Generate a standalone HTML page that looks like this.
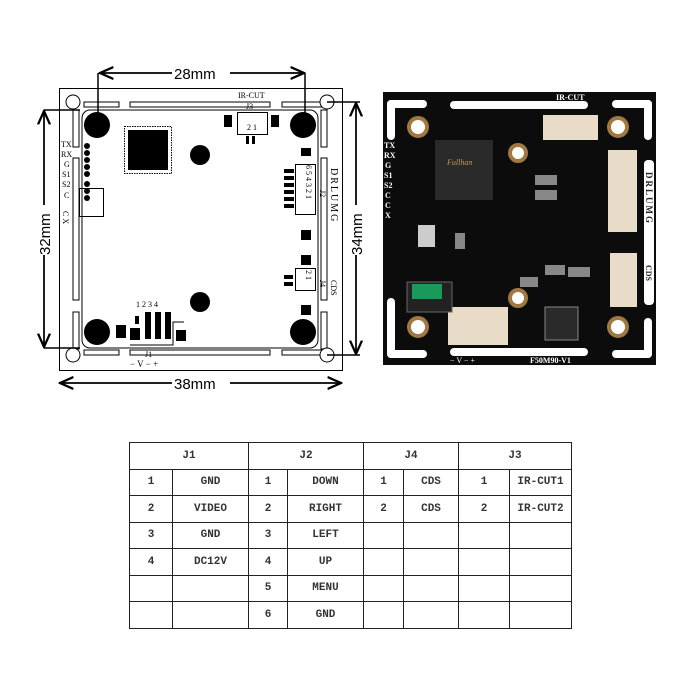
<!DOCTYPE html>
<html><head><meta charset="utf-8"><style>
body{margin:0;background:#fff;width:700px;height:700px;overflow:hidden;font-family:"Liberation Sans",sans-serif}
svg{position:absolute;left:0;top:0}
table{position:absolute;left:129px;top:442px;border-collapse:collapse;font-family:"Liberation Mono","DejaVu Sans Mono",monospace;font-size:11px;color:#333;font-weight:bold}
td{border:1.5px solid #222;text-align:center;height:25.5px;padding:0}
</style></head><body>
<svg width="700" height="700" viewBox="0 0 700 700" font-family="Liberation Serif, serif">
<defs><marker id="a" markerWidth="10" markerHeight="10" refX="9" refY="5" orient="auto"><path d="M0,1 L9,5 L0,9" fill="none" stroke="#000" stroke-width="1.5"/></marker></defs>
<rect x="59.5" y="88.5" width="283" height="282" fill="#fff" stroke="#000"/>
<rect x="82" y="110" width="236" height="238" rx="8" fill="none" stroke="#000"/>
<g fill="#fff" stroke="#000" stroke-width="1">
<rect x="130" y="102" width="140" height="5"/><rect x="84" y="102" width="35" height="5"/><rect x="282" y="102" width="45" height="5"/>
<rect x="130" y="350" width="140" height="5"/><rect x="84" y="350" width="35" height="5"/><rect x="282" y="350" width="45" height="5"/>
<rect x="73" y="110" width="6" height="37"/><rect x="73" y="158" width="6" height="142"/><rect x="73" y="312" width="6" height="37"/>
<rect x="321" y="110" width="6" height="37"/><rect x="321" y="158" width="6" height="142"/><rect x="321" y="312" width="6" height="37"/>
<circle cx="73" cy="102" r="7"/><circle cx="327" cy="102" r="7"/><circle cx="73" cy="355" r="7"/><circle cx="327" cy="355" r="7"/>
</g>
<g fill="#000"><circle cx="97" cy="125" r="13"/><circle cx="303" cy="125" r="13"/><circle cx="97" cy="332" r="13"/><circle cx="303" cy="332" r="13"/>
<circle cx="200" cy="155" r="10"/><circle cx="200" cy="302" r="10"/>
<rect x="128" y="130" width="40" height="40"/>
<circle cx="87" cy="146" r="3"/><circle cx="87" cy="153" r="3"/><circle cx="87" cy="160" r="3"/><circle cx="87" cy="167" r="3"/><circle cx="87" cy="174" r="3"/><circle cx="87" cy="184" r="3"/><circle cx="87" cy="191" r="3"/><circle cx="87" cy="198" r="3"/>
<rect x="224" y="115" width="8" height="12"/><rect x="271" y="115" width="8" height="12"/><rect x="246" y="136" width="3" height="8"/><rect x="252" y="136" width="3" height="8"/>
<rect x="301" y="148" width="10" height="8"/><rect x="301" y="230" width="10" height="10"/><rect x="301" y="255" width="10" height="10"/><rect x="301" y="305" width="10" height="10"/>
<rect x="284" y="169" width="10" height="4"/><rect x="284" y="176" width="10" height="4"/><rect x="284" y="183" width="10" height="4"/><rect x="284" y="190" width="10" height="4"/><rect x="284" y="197" width="10" height="4"/><rect x="284" y="204" width="10" height="4"/>
<rect x="284" y="275" width="9" height="4"/><rect x="284" y="282" width="9" height="4"/>
<rect x="116" y="325" width="10" height="13"/><rect x="130" y="328" width="10" height="12"/><rect x="176" y="330" width="10" height="11"/>
<rect x="145" y="312" width="6" height="27"/><rect x="155" y="312" width="6" height="27"/><rect x="165" y="312" width="6" height="27"/><rect x="135" y="316" width="4" height="8"/>
</g>
<rect x="124.5" y="126.5" width="47" height="47" fill="none" stroke="#000" stroke-dasharray="1.5 1"/>
<rect x="79.5" y="188.5" width="24" height="28" fill="none" stroke="#000"/>
<rect x="237.5" y="112.5" width="30" height="22" fill="none" stroke="#000"/>
<rect x="295.5" y="164.5" width="20" height="50" fill="none" stroke="#000"/>
<rect x="295.5" y="268.5" width="20" height="22" fill="none" stroke="#000"/>
<path d="M130 345 H173 V322 H184" fill="none" stroke="#000"/>
<g font-size="8" fill="#000">
<text x="238" y="98">IR-CUT</text><text x="246" y="109">J3</text><text x="247" y="130">2 1</text>
<text x="61" y="147">TX</text><text x="61" y="157">RX</text><text x="64" y="167">G</text><text x="62" y="177">S1</text><text x="62" y="187">S2</text><text x="64" y="198">C</text>
<text transform="translate(63,211) rotate(90)">C X</text>
<text x="136" y="307">1 2 3 4</text><text x="145" y="357">J1</text><text x="130" y="367" font-size="9">− V − +</text>
<text transform="translate(306,165) rotate(90)">6 5 4 3 2 1</text><text transform="translate(320,190) rotate(90)">J2</text>
<text transform="translate(331,168) rotate(90)" font-size="10" letter-spacing="2">DRLUMG</text>
<text transform="translate(306,270) rotate(90)">2 1</text><text transform="translate(320,280) rotate(90)">J4</text><text transform="translate(331,280) rotate(90)">CDS</text>
</g>
<g stroke="#000" stroke-width="1.5" fill="none">
<line x1="98" y1="73" x2="98" y2="120"/><line x1="305" y1="73" x2="305" y2="120"/>
<line x1="100" y1="73" x2="304" y2="73" marker-end="url(#a)"/><line x1="304" y1="73" x2="100" y2="73" marker-end="url(#a)"/>
<line x1="60" y1="383" x2="341" y2="383" marker-end="url(#a)"/><line x1="341" y1="383" x2="60" y2="383" marker-end="url(#a)"/>
<line x1="44" y1="110" x2="80" y2="110"/><line x1="44" y1="348" x2="80" y2="348"/>
<line x1="44" y1="111" x2="44" y2="347" marker-end="url(#a)"/><line x1="44" y1="347" x2="44" y2="111" marker-end="url(#a)"/>
<line x1="327" y1="102" x2="360" y2="102"/><line x1="327" y1="355" x2="360" y2="355"/>
<line x1="356" y1="103" x2="356" y2="354" marker-end="url(#a)"/><line x1="356" y1="354" x2="356" y2="103" marker-end="url(#a)"/>
</g>
<g font-family="Liberation Sans, sans-serif" font-size="15" fill="#000">
<rect x="172" y="65" width="58" height="16" fill="#fff"/><text x="174" y="79">28mm</text>
<rect x="172" y="376" width="58" height="16" fill="#fff"/><text x="174" y="389">38mm</text>
<rect x="36" y="205" width="16" height="50" fill="#fff"/><text transform="translate(50,255) rotate(-90)">32mm</text>
<rect x="348" y="205" width="16" height="50" fill="#fff"/><text transform="translate(362,255) rotate(-90)">34mm</text>
</g>
<rect x="383" y="92" width="273" height="273" fill="#0c0c0c"/>
<g fill="#fff">
<rect x="450" y="101" width="138" height="8" rx="4"/><rect x="450" y="348" width="138" height="8" rx="4"/>
<rect x="387" y="100" width="8" height="40" rx="4"/><rect x="387" y="100" width="40" height="8" rx="4"/>
<rect x="644" y="100" width="8" height="40" rx="4"/><rect x="612" y="100" width="40" height="8" rx="4"/>
<rect x="387" y="298" width="8" height="60" rx="4"/><rect x="387" y="350" width="40" height="8" rx="4"/>
<rect x="644" y="318" width="8" height="40" rx="4"/><rect x="612" y="350" width="40" height="8" rx="4"/>
<rect x="644" y="160" width="10" height="145" rx="4"/>
</g>
<g fill="#fff" stroke="#a07840" stroke-width="4">
<circle cx="418" cy="127" r="9"/><circle cx="618" cy="127" r="9"/><circle cx="418" cy="327" r="9"/><circle cx="618" cy="327" r="9"/>
<circle cx="518" cy="153" r="8"/><circle cx="518" cy="298" r="8"/></g>
<rect x="435" y="140" width="58" height="60" fill="#2a2a2a"/>
<text x="447" y="165" font-size="8" fill="#c09a50" font-style="italic">Fullhan</text>
<g fill="#e8dcc8"><rect x="543" y="115" width="55" height="25"/><rect x="608" y="150" width="29" height="82"/><rect x="610" y="253" width="27" height="54"/><rect x="448" y="307" width="60" height="38"/></g>
<rect x="407" y="282" width="45" height="30" fill="#222" stroke="#666"/><rect x="412" y="284" width="30" height="15" fill="#1a9a5a"/>
<rect x="545" y="307" width="33" height="33" fill="#2a2a2a" stroke="#888"/>
<rect x="418" y="225" width="17" height="22" fill="#ccc"/>
<g fill="#888"><rect x="535" y="175" width="22" height="10"/><rect x="535" y="190" width="22" height="10"/><rect x="545" y="265" width="20" height="10"/><rect x="568" y="267" width="22" height="10"/><rect x="455" y="233" width="10" height="16"/><rect x="520" y="277" width="18" height="10"/></g>
<g font-size="8" fill="#fff" font-weight="bold">
<text x="556" y="100">IR-CUT</text><text x="384" y="148">TX</text><text x="384" y="158">RX</text><text x="385" y="168">G</text><text x="384" y="178">S1</text><text x="384" y="188">S2</text><text x="385" y="198">C</text><text x="385" y="208">C</text><text x="385" y="218">X</text>
<text x="450" y="363" font-weight="normal">− V − +</text><text x="530" y="363">F50M90-V1</text></g>
<g font-size="9" fill="#222" font-weight="bold">
<text transform="translate(646,172) rotate(90)" letter-spacing="2">DRLUMG</text>
<text transform="translate(646,265) rotate(90)" font-size="8">CDS</text></g>
</svg>
<table>
<tr><td colspan="2" style="width:118px">J1</td><td colspan="2" style="width:114px">J2</td><td colspan="2" style="width:94px">J4</td><td colspan="2" style="width:112px">J3</td></tr>
<tr><td style="width:42px">1</td><td>GND</td><td style="width:38px">1</td><td>DOWN</td><td style="width:39px">1</td><td>CDS</td><td style="width:50px">1</td><td>IR-CUT1</td></tr>
<tr><td>2</td><td>VIDEO</td><td>2</td><td>RIGHT</td><td>2</td><td>CDS</td><td>2</td><td>IR-CUT2</td></tr>
<tr><td>3</td><td>GND</td><td>3</td><td>LEFT</td><td></td><td></td><td></td><td></td></tr>
<tr><td>4</td><td>DC12V</td><td>4</td><td>UP</td><td></td><td></td><td></td><td></td></tr>
<tr><td></td><td></td><td>5</td><td>MENU</td><td></td><td></td><td></td><td></td></tr>
<tr><td></td><td></td><td>6</td><td>GND</td><td></td><td></td><td></td><td></td></tr>
</table>
</body></html>
